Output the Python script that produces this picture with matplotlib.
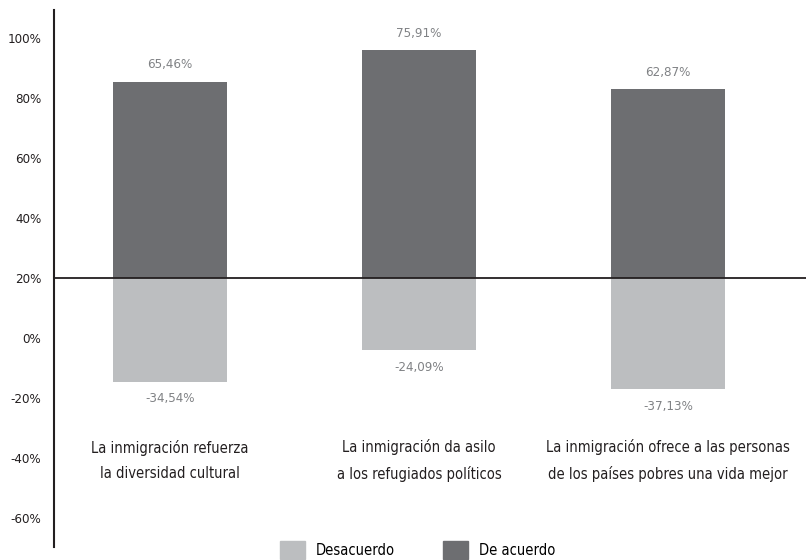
import numpy as np
from matplotlib import pyplot as plt
from matplotlib.patches import Patch

plt.rcParams['font.family'] = ['DejaVu Sans']
plt.rcParams['font.stretch'] = 'condensed'

categories = ['La inmigración refuerza\nla diversidad cultural',
              'La inmigración da asilo\na los refugiados políticos',
              'La inmigración ofrece a las personas\nde los países pobres una vida mejor']
acuerdo = [65.46, 75.91, 62.87]
desacuerdo = [-34.54, -24.09, -37.13]
tick_vals = [100, 80, 60, 40, 20, 0, -20, -40, -60]
offset = 20  # axis labels are shifted: the baseline is labelled 20%

c_dark = '#6d6e71'
c_light = '#bcbec0'
c_text = '#808285'

fig = plt.figure(figsize=(8.06, 5.6), dpi=100)
ax = fig.add_axes([54 / 806, 13 / 560, 752 / 806, 537 / 560])

x = np.arange(len(categories))
w = 0.46
ax.bar(x, acuerdo, w, color=c_dark, zorder=2)
ax.bar(x, desacuerdo, w, color=c_light, zorder=2)
ax.axhline(0, color='#231f20', lw=1.3, zorder=3)

for xi, a, d in zip(x, acuerdo, desacuerdo):
    ax.text(xi, a + 3.5, f'{a:.2f}%'.replace('.', ','), ha='center', va='bottom',
            color=c_text, fontsize=9.5)
    ax.text(xi, d - 3.5, f'{d:.2f}%'.replace('.', ','), ha='center', va='top',
            color=c_text, fontsize=9.5)
    ax.text(xi, -61, categories[xi], ha='center', va='center',
            color='#231f20', fontsize=10.5, linespacing=1.85)

ax.set_xlim(-0.466, 2.554)
ax.set_ylim(-89.7, 89.3)
ax.set_yticks([t - offset for t in tick_vals])
ax.set_yticklabels([f'{t}%' for t in tick_vals])
ax.tick_params(axis='y', length=0, pad=9, labelsize=9.5, labelcolor='#231f20')
ax.set_xticks([])
for s in ['top', 'right', 'bottom']:
    ax.spines[s].set_visible(False)
ax.spines['left'].set_linewidth(1.5)
ax.spines['left'].set_color('#231f20')

handles = [Patch(color=c_light, label='Desacuerdo'),
           Patch(color=c_dark, label='De acuerdo')]
fig.legend(handles=handles, loc='center', bbox_to_anchor=(418 / 806, 10 / 560),
           ncol=2, frameon=False, fontsize=10.5, handlelength=1.7, handleheight=1.6,
           columnspacing=3.3, handletextpad=0.75)

plt.savefig('out.png', dpi=100)
